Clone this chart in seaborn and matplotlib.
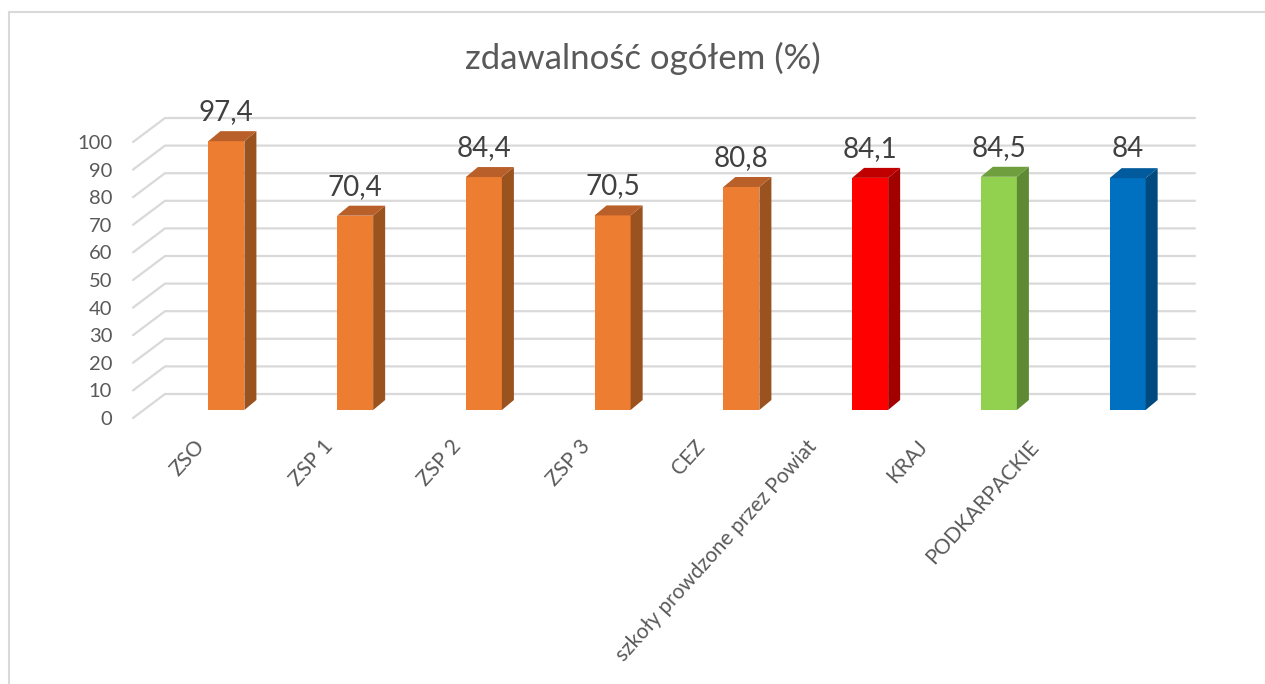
import matplotlib
matplotlib.use("Agg")
import matplotlib.pyplot as plt
import matplotlib.transforms as mtransforms
from matplotlib.patches import Polygon
from matplotlib.lines import Line2D
import seaborn as sns
import pandas as pd

# dane
kategorie = ["ZSO", "ZSP 1", "ZSP 2", "ZSP 3", "CEZ",
             "szkoły prowdzone przez Powiat", "KRAJ", "PODKARPACKIE"]
zdawalnosc = [97.4, 70.4, 84.4, 70.5, 80.8, 84.1, 84.5, 84.0]
ticki_y = [0, 10, 20, 30, 40, 50, 60, 70, 80, 90, 100]

# kolory: przód, bok, góra słupka
kolory_przod = ["#ED7D31"] * 5 + ["#FF0000", "#92D050", "#0070C0"]
kolory_bok = ["#9A521F"] * 5 + ["#A30000", "#5E8A33", "#004A80"]
kolory_gora = ["#B9602A"] * 5 + ["#C00000", "#6F9E3E", "#005A9C"]

# układ w pikselach (3D w stylu Excela)
GLEB_X, GLEB_Y = 32, 24        # przesunięcie tylnej ściany względem przodu
SLUP_X, SLUP_Y = -3, 8         # przesunięcie przedniej ściany słupka
BOK_X, BOK_Y = 12, 10          # grubość słupka w głąb
przesuniecie_etykiet = [-28, -28, -29, -29, -43, -60, -78, -95]

df = pd.DataFrame({"kategoria": kategorie, "wartosc": zdawalnosc})

sns.set_theme(style="white")
plt.rcParams["font.family"] = ["Lato", "DejaVu Sans"]

fig = plt.figure(figsize=(12.65, 6.84), dpi=100)
W, H = 1265, 684
ax = fig.add_axes([165 / W, (H - 418) / H, 1030 / W, 276 / H])

sns.barplot(data=df, x="kategoria", y="wartosc", hue="kategoria",
            palette=dict(zip(kategorie, kolory_przod)), width=0.28,
            legend=False, ax=ax, saturation=1, zorder=3)

ax.set_xlim(-0.5, len(kategorie) - 0.5)
ax.set_ylim(0, 100)
for s in ax.spines.values():
    s.set_visible(False)
ax.set_xlabel("")
ax.set_ylabel("")


def do_danych(x, y, dx=0, dy=0):
    # punkt danych przesunięty o (dx, dy) pikseli, z powrotem w danych
    px, py = ax.transData.transform((x, y))
    return ax.transData.inverted().transform((px + dx, py + dy))


# siatka na tylnej ścianie + ukośne odcinki na lewej ścianie
for t in ticki_y:
    a = do_danych(-0.5, t, 0, GLEB_Y)
    b = do_danych(len(kategorie) - 0.5, t, 0, GLEB_Y)
    c = do_danych(-0.5, t, -GLEB_X, 0)
    ax.add_line(Line2D([c[0], a[0], b[0]], [c[1], a[1], b[1]],
                       color="#D9D9D9", lw=1.6, zorder=0, clip_on=False))

# słupki 3D
for p in ax.patches[:]:
    x0 = p.get_x()
    w = p.get_width()
    h = p.get_height()
    i = int(round(x0 + w / 2))
    p.set_transform(mtransforms.offset_copy(ax.transData, fig=fig,
                                            x=SLUP_X, y=SLUP_Y, units="dots"))
    p.set_clip_on(False)
    p.set_linewidth(0)
    x1 = x0 + w
    bok = [do_danych(x1, 0, SLUP_X, SLUP_Y),
           do_danych(x1, h, SLUP_X, SLUP_Y),
           do_danych(x1, h, SLUP_X + BOK_X, SLUP_Y + BOK_Y),
           do_danych(x1, 0, SLUP_X + BOK_X, SLUP_Y + BOK_Y)]
    gora = [do_danych(x0, h, SLUP_X, SLUP_Y),
            do_danych(x1, h, SLUP_X, SLUP_Y),
            do_danych(x1, h, SLUP_X + BOK_X, SLUP_Y + BOK_Y),
            do_danych(x0, h, SLUP_X + BOK_X, SLUP_Y + BOK_Y)]
    ax.add_patch(Polygon(bok, closed=True, fc=kolory_bok[i], lw=0,
                         zorder=3, clip_on=False))
    ax.add_patch(Polygon(gora, closed=True, fc=kolory_gora[i], lw=0,
                         zorder=3, clip_on=False))
    etykieta = f"{zdawalnosc[i]:g}".replace(".", ",")
    ax.text(x0 + w / 2, h, etykieta, ha="center", va="baseline",
            fontsize=20, color="#404040",
            transform=mtransforms.offset_copy(ax.transData, fig=fig,
                                              x=SLUP_X, y=SLUP_Y + 21,
                                              units="dots"))

# oś Y
ax.set_yticks(ticki_y)
ax.set_yticklabels([str(t) for t in ticki_y], fontsize=14.5, color="#595959")
ax.tick_params(axis="y", length=0, pad=38)

# oś X – etykiety obrócone
ax.set_xticks(range(len(kategorie)))
ax.set_xticklabels(kategorie, rotation=48, ha="right", va="center",
                   rotation_mode="anchor", fontsize=15, color="#595959")
ax.tick_params(axis="x", length=0, pad=0)
for lab, dx in zip(ax.get_xticklabels(), przesuniecie_etykiet):
    lab.set_transform(lab.get_transform() +
                      mtransforms.ScaledTranslation(dx / 100, -25 / 100,
                                                    fig.dpi_scale_trans))

fig.text(643 / W, 1 - 58 / H, "zdawalność ogółem (%)", ha="center",
         va="center", fontsize=25, color="#595959")

# ramka wykresu (górna i lewa krawędź)
fig.add_artist(Line2D([9 / W, 1], [1 - 12 / H, 1 - 12 / H],
                      transform=fig.transFigure, color="#D9D9D9", lw=1.5))
fig.add_artist(Line2D([9 / W, 9 / W], [0, 1 - 12 / H],
                      transform=fig.transFigure, color="#D9D9D9", lw=1.5))

fig.savefig("out.png", dpi=100, facecolor="white")
